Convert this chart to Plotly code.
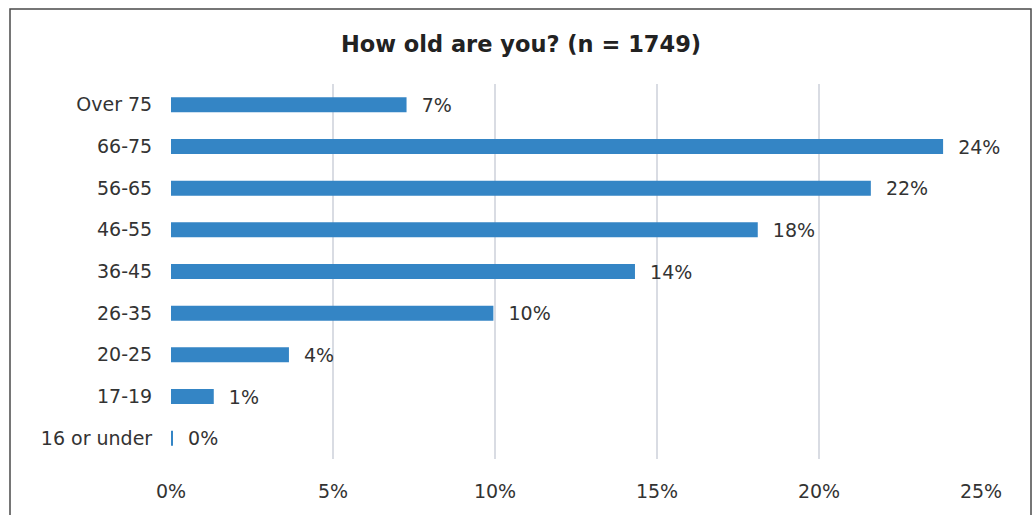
import plotly.graph_objects as go

# Survey responses by age group (share of respondents, %)
age_groups = ["Over 75", "66-75", "56-65", "46-55", "36-45",
              "26-35", "20-25", "17-19", "16 or under"]
share_pct = [7.27, 23.83, 21.60, 18.11, 14.32, 9.95, 3.64, 1.32, 0.06]

x_ticks = [0, 5, 10, 15, 20, 25]
x_tick_labels = ["0%", "5%", "10%", "15%", "20%", "25%"]

title_text = "How old are you? (n = 1749)"

BAR_COLOR = "#3485c5"
GRID_COLOR = "#d9dce3"
TEXT_COLOR = "#333333"
FONT = "DejaVu Sans"

W, H = 1034, 515
L, R, T, B = 171, 53, 84, 56
pw, ph = W - L - R, H - T - B

fig = go.Figure(
    go.Bar(
        x=share_pct,
        y=age_groups,
        orientation="h",
        marker=dict(color=BAR_COLOR, line=dict(width=0)),
        width=0.36,
        texttemplate="  %{x:.0f}%",
        textposition="outside",
        constraintext="none",
        textfont=dict(family=FONT, size=19, color=TEXT_COLOR),
        cliponaxis=False,
        hoverinfo="skip",
    )
)

# outer frame around the chart, in paper units relative to the plot area
def px_x(v):
    return (v - L) / pw

def px_y(v):
    return (H - B - v) / ph

fig.add_shape(
    type="rect", xref="paper", yref="paper",
    x0=px_x(10), x1=px_x(1031), y0=px_y(530), y1=px_y(9),
    line=dict(color="#4a4a4a", width=1.5), fillcolor="rgba(0,0,0,0)",
    layer="below",
)

fig.update_layout(
    width=W, height=H,
    margin=dict(l=L, r=R, t=T, b=B, pad=0),
    paper_bgcolor="white", plot_bgcolor="white",
    showlegend=False,
    font=dict(family=FONT, size=19, color=TEXT_COLOR),
    title=dict(
        text=f"<b>{title_text}</b>",
        x=px_x(521), xanchor="center", xref="paper",
        y=1 - 44 / H, yanchor="middle", yref="container",
        font=dict(family=FONT, size=22.5, color="#222222"),
    ),
    xaxis=dict(
        range=[0, 25],
        tickvals=x_ticks, ticktext=x_tick_labels,
        showgrid=True, gridcolor=GRID_COLOR, gridwidth=2,
        zeroline=False, showline=False,
        ticks="outside", ticklen=15, tickcolor="rgba(0,0,0,0)",
        tickfont=dict(family=FONT, size=19, color=TEXT_COLOR),
        fixedrange=True,
    ),
    yaxis=dict(
        autorange="reversed",
        showgrid=False, zeroline=False, showline=False,
        ticks="outside", ticklen=14, tickcolor="rgba(0,0,0,0)",
        tickfont=dict(family=FONT, size=19, color=TEXT_COLOR),
        fixedrange=True,
    ),
    bargap=0.64,
)

fig.write_html("out.html")
